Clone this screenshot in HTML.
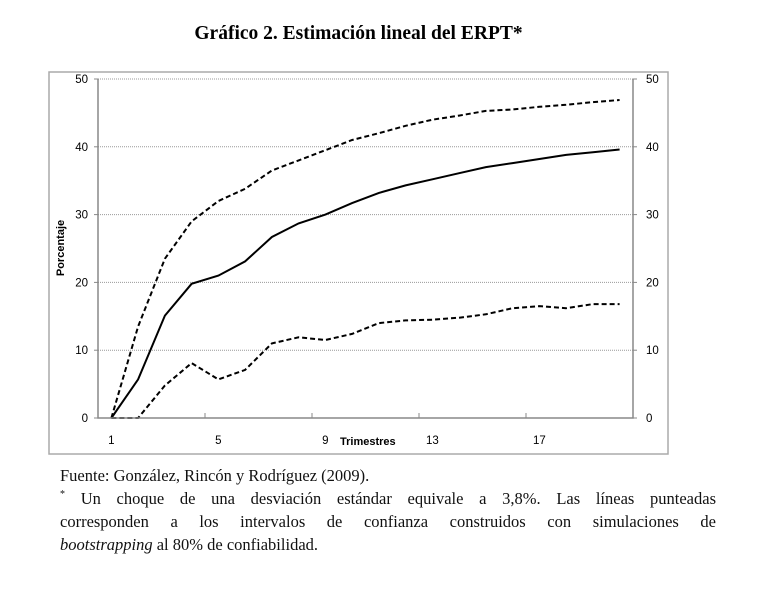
<!DOCTYPE html>
<html><head><meta charset="utf-8"><style>
body{margin:0;background:#fff;width:757px;height:616px;position:relative;overflow:hidden;font-family:"Liberation Serif",serif;}
#title{position:absolute;left:0;width:717px;top:23px;text-align:center;font-weight:bold;font-size:19.5px;}
.note{position:absolute;left:60px;width:656px;font-size:16.5px;line-height:23px;height:23px;color:#111;white-space:nowrap;}
.j{text-align:justify;text-align-last:justify;white-space:normal;}
.sup{font-size:10px;position:relative;top:-7px;line-height:0;}
</style></head><body>
<div id="title">Gráfico 2. Estimación lineal del ERPT*</div>
<svg id="chart" width="757" height="616" style="position:absolute;left:0;top:0">
<rect x="49" y="72" width="619" height="382" fill="none" stroke="#aaa" stroke-width="1.5"/>
<g id="grid"></g><g id="series"></g><g id="axes"></g>
</svg>
<div class="note" style="top:464px">Fuente: González, Rincón y Rodríguez (2009).</div>
<div class="note j" style="top:487px"><span class="sup">*</span> Un choque de una desviación estándar equivale a 3,8%. Las líneas punteadas</div>
<div class="note j" style="top:510px">corresponden a los intervalos de confianza construidos con simulaciones de</div>
<div class="note" style="top:533px"><i>bootstrapping</i> al 80% de confiabilidad.</div>
<script>
const categories=[1,2,3,4,5,6,7,8,9,10,11,12,13,14,15,16,17,18,19,20];
const estimate=[0,5.7,15.1,19.8,21,23.1,26.7,28.7,30,31.7,33.2,34.3,35.2,36.1,37,37.6,38.2,38.8,39.2,39.6];
const upper=[0,13.5,23.5,29,32,33.8,36.5,38,39.5,41,42,43.1,44,44.6,45.3,45.5,45.9,46.2,46.6,46.9];
const lower=[0,0,4.8,8.1,5.7,7.1,11,11.9,11.5,12.4,14,14.4,14.5,14.8,15.3,16.2,16.5,16.2,16.8,16.8];
const yTicks=[0,10,20,30,40,50];
const xLabels=[1,5,9,13,17];
const NS="http://www.w3.org/2000/svg";
const L=98,R=633,T=79,B=418;
const bw=(R-L)/categories.length;
const xs=c=>L+(c-0.5)*bw;
const ys=v=>B-(v/50)*(B-T);
function mk(tag,attrs,parent,text){const e=document.createElementNS(NS,tag);for(const k in attrs)e.setAttribute(k,attrs[k]);if(text!==undefined)e.textContent=text;document.getElementById(parent).appendChild(e);return e;}
yTicks.forEach(v=>{
 if(v>0){const g=mk('line',{x1:L,x2:R,y1:ys(v),y2:ys(v),stroke:'#999','stroke-width':1,'stroke-dasharray':'1,1'},'grid');
 
 }
 const t1=mk('text',{x:L-10,y:ys(v)+4,'text-anchor':'end','font-family':'Liberation Sans,sans-serif','font-size':11.5},'axes',v);
 
 
 const t2=mk('text',{x:R+13,y:ys(v)+4,'font-family':'Liberation Sans,sans-serif','font-size':11.5},'axes',v);
 
 
 const k1=mk('line',{x1:L-4,x2:L,y1:ys(v),y2:ys(v),stroke:'#888'},'axes');
 
 
 const k2=mk('line',{x1:R,x2:R+4,y1:ys(v),y2:ys(v),stroke:'#888'},'axes');
 
 
});
const ax=mk('path',{d:`M${L},${T}V${B}H${R}V${T}`,fill:'none',stroke:'#888','stroke-width':1.5},'axes');


for(let i=4;i<categories.length;i+=4){const tk=mk('line',{x1:L+i*bw,x2:L+i*bw,y1:B-5,y2:B,stroke:'#888'},'axes');
 
 }
xLabels.forEach(c=>{const t=mk('text',{x:xs(c),y:B+26,'text-anchor':'middle','font-family':'Liberation Sans,sans-serif','font-size':11.5},'axes',c);
 
 });
const xt=mk('text',{x:340,y:B+27,'font-family':'Liberation Sans,sans-serif','font-size':11,'font-weight':'bold'},'axes','Trimestres');


const yt=mk('text',{x:0,y:0,transform:'translate(64,248) rotate(-90)','text-anchor':'middle','font-family':'Liberation Sans,sans-serif','font-size':11,'font-weight':'bold'},'axes','Porcentaje');


function line(vals,name,dash){
 const d=vals.map((v,i)=>(i?'L':'M')+xs(categories[i]).toFixed(1)+','+ys(v).toFixed(1)).join('');
 const p=mk('path',{d:d,fill:'none',stroke:'#000','stroke-width':2,'stroke-dasharray':dash},'series');
 
 
}
line(upper,'upper-bound-line','5,3');
line(lower,'lower-bound-line','5,3');
line(estimate,'erpt-estimate-line','none');
</script>
</body></html>
